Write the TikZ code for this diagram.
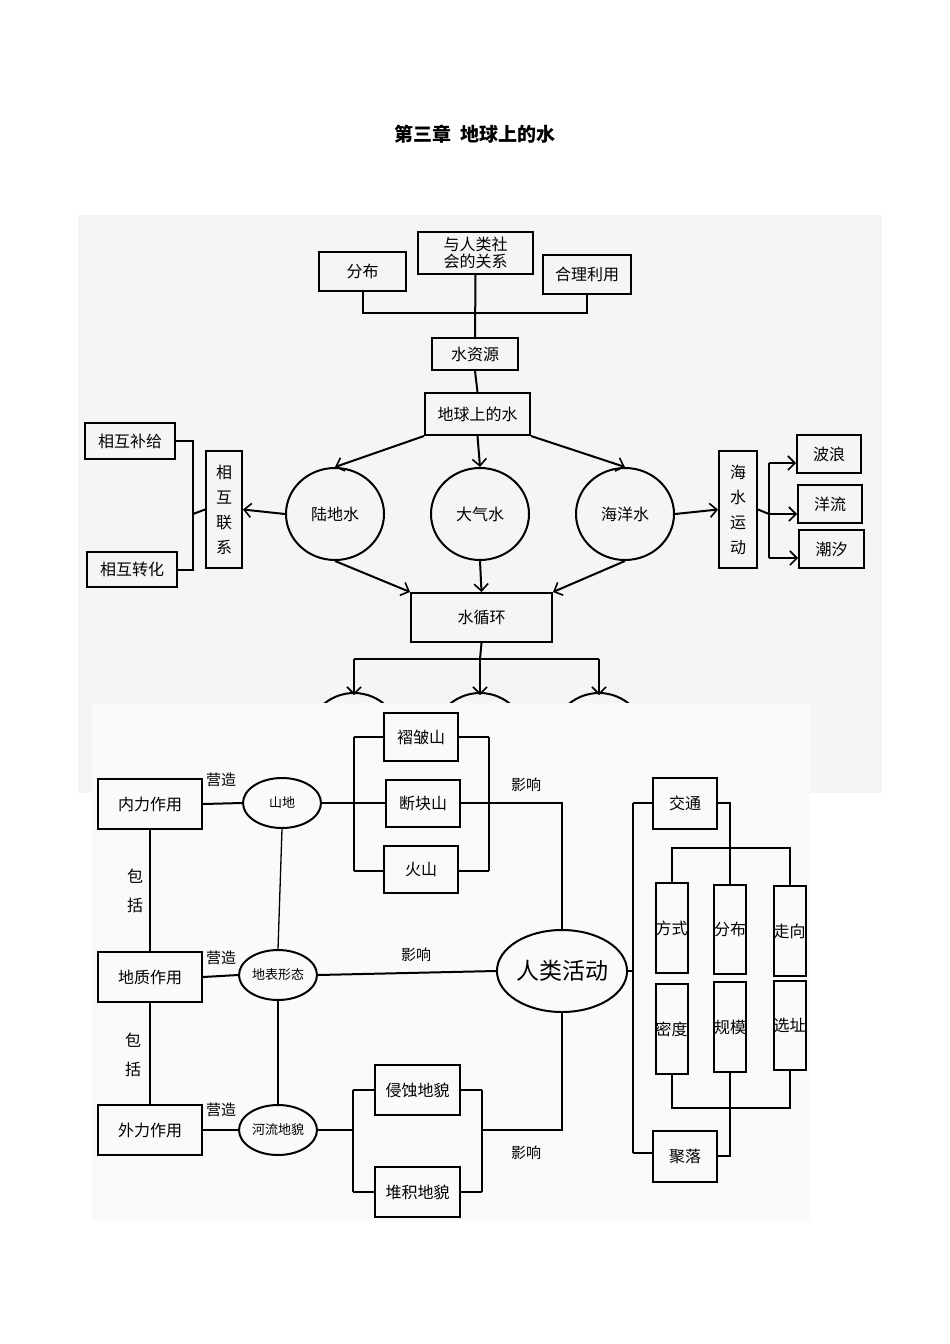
\documentclass[tikz,border=0pt]{standalone}
\usepackage{fontspec}
\setmainfont{Noto Sans CJK SC}
\usetikzlibrary{shapes.geometric,arrows.meta}
\begin{document}
\begin{tikzpicture}[x=1pt,y=-1pt,
  every node/.style={inner sep=0pt,font=\fontsize{16}{18}\selectfont},
  bx/.style={draw,line width=2pt,align=center},
  el/.style={draw,ellipse,line width=2pt,align=center},
  ln/.style={line width=2pt},
  thin/.style={line width=1.3pt},
  ar/.style={line width=2pt,-{Straight Barb[length=7pt,width=14pt,line width=1.6pt]}},
  lab/.style={font=\fontsize{15}{18}\selectfont}]
\useasboundingbox (0,0) rectangle (950,1344);
\node[font=\fontsize{19}{20}\selectfont\bfseries] (title) at (475,134) {第三章\ \ 地球上的水};
% top panel
\fill[black!4] (78,215) rectangle (882,793);
\node[bx,minimum width=115pt,minimum height=42pt,font=\fontsize{16}{17}\selectfont] (rel) at (475.5,253) {与人类社\\会的关系};
\node[bx,minimum width=87pt,minimum height=39pt] (fb) at (362.5,271.5) {分布};
\node[bx,minimum width=88pt,minimum height=39pt] (hl) at (587,274.5) {合理利用};
\node[bx,minimum width=86pt,minimum height=32pt] (szy) at (475,354) {水资源};
\node[bx,minimum width=105pt,minimum height=42pt] (dq) at (477.5,414) {地球上的水};
\node[el,minimum width=98pt,minimum height=92pt] (ld) at (335,514) {陆地水};
\node[el,minimum width=98pt,minimum height=92pt] (dqs) at (480,514) {大气水};
\node[el,minimum width=98pt,minimum height=92pt] (hy) at (625,514) {海洋水};
\node[bx,minimum width=141pt,minimum height=49pt] (sxh) at (481.5,617.5) {水循环};
\node[bx,minimum width=36pt,minimum height=117pt,font=\fontsize{16}{25}\selectfont] (xhlx) at (224,509.5) {相\\互\\联\\系};
\node[bx,minimum width=90pt,minimum height=36pt] (bj) at (130,441) {相互补给};
\node[bx,minimum width=90pt,minimum height=35pt] (zh) at (132,569.5) {相互转化};
\node[bx,minimum width=38pt,minimum height=117pt,font=\fontsize{16}{25}\selectfont] (hsyd) at (738,509.5) {海\\水\\运\\动};
\node[bx,minimum width=64pt,minimum height=38pt] (bl) at (829,454) {波浪};
\node[bx,minimum width=64pt,minimum height=38pt] (yl) at (830,504) {洋流};
\node[bx,minimum width=65pt,minimum height=38pt] (cx) at (831.5,549) {潮汐};
\coordinate (tbar) at (476,313);
\draw[ln] (fb.south) |- (tbar) -| (hl.south);
\draw[ln] (rel.south) -- (szy.north);
\draw[ln] (szy.south) -- (dq.north);
\draw[ar] (dq.south west) -- (ld.north);
\draw[ar] (dq.south) -- (dqs.north);
\draw[ar] (dq.south east) -- (hy.north);
\draw[ar] (ld.south) -- (sxh.north west);
\draw[ar] (dqs.south) -- (sxh.north);
\draw[ar] (hy.south) -- (sxh.north east);
\draw[ar] (ld.west) -- (xhlx.east);
\coordinate (bx) at (193,514);
\draw[ln] (bj.east) -| (bx) |- (zh.east);
\draw[ln] (bx) -- (xhlx.west);
\draw[ar] (hy.east) -- (hsyd.west);
\coordinate (w0) at (769,514);
\coordinate (w1) at (769,463);
\coordinate (w3) at (769,558);
\draw[ln] (hsyd.east) -- (w0);
\draw[ln] (w1) -- (w3);
\draw[ar] (w1) -- (w1 -| bl.west);
\draw[ar] (w0) -- (w0 -| yl.west);
\draw[ar] (w3) -- (w3 -| cx.west);
\coordinate (c0) at (480,659);
\coordinate (c1) at (354,659);
\coordinate (c3) at (599,659);
\draw[ln] (sxh.south) -- (c0);
\draw[ln] (c1) -- (c3);
\foreach \xx in {354,480,599}{
  \draw[ln] (\xx,740) circle[radius=47pt];
  \draw[ar] (\xx,659) -- (\xx,695);
}
% bottom panel
\fill[black!2] (92,703) rectangle (810,1220);
\node[bx,minimum width=104pt,minimum height=50pt] (nl) at (150,804) {内力作用};
\node[bx,minimum width=104pt,minimum height=50pt] (dz) at (150,977) {地质作用};
\node[bx,minimum width=104pt,minimum height=50pt] (wl) at (150,1130) {外力作用};
\node[el,minimum width=78pt,minimum height=50pt,font=\fontsize{13}{15}\selectfont] (sd) at (282,803) {山地};
\node[el,minimum width=78pt,minimum height=50pt,font=\fontsize{13}{15}\selectfont] (db) at (278,975) {地表形态};
\node[el,minimum width=78pt,minimum height=50pt,font=\fontsize{13}{15}\selectfont] (hl2) at (278,1130) {河流地貌};
\node[bx,minimum width=74pt,minimum height=48pt] (zz) at (421,737) {褶皱山};
\node[bx,minimum width=74pt,minimum height=47pt] (dk) at (423,803) {断块山};
\node[bx,minimum width=74pt,minimum height=47pt] (hs) at (421,869.5) {火山};
\node[el,minimum width=106pt,minimum height=82pt,font=\fontsize{23}{25}\selectfont] (rl) at (562,971) {人类活动};
\node[bx,minimum width=85pt,minimum height=50pt] (qs) at (417.5,1090) {侵蚀地貌};
\node[bx,minimum width=85pt,minimum height=50pt] (dj) at (417.5,1192) {堆积地貌};
\node[bx,minimum width=64pt,minimum height=51pt] (jt) at (685,803) {交通};
\node[bx,minimum width=64pt,minimum height=51pt] (jl) at (685,1156) {聚落};
\node[bx,minimum width=31pt,minimum height=90pt] (fs) at (671.5,928) {方式};
\node[bx,minimum width=32pt,minimum height=89pt] (fb2) at (730,929.5) {分布};
\node[bx,minimum width=31pt,minimum height=90pt] (zx) at (789.5,931) {走向};
\node[bx,minimum width=31pt,minimum height=90pt] (md) at (671.5,1029) {密度};
\node[bx,minimum width=32pt,minimum height=90pt] (gm) at (730,1027) {规模};
\node[bx,minimum width=31pt,minimum height=89pt] (xz) at (789.5,1025.5) {选址};
\node[lab] (l1) at (221,780) {营造};
\node[lab] (l2) at (221,958) {营造};
\node[lab] (l3) at (221,1110) {营造};
\node[lab,align=center,font=\fontsize{16}{29}\selectfont] (b1) at (135,891) {包\\括};
\node[lab,align=center,font=\fontsize{16}{29}\selectfont] (b2) at (133,1055) {包\\括};
\node[lab] (y1) at (526,785) {影响};
\node[lab] (y2) at (416,955) {影响};
\node[lab] (y3) at (526,1153) {影响};
\draw[ln] (nl.east) -- (sd.west);
\draw[ln] (dz.east) -- (db.west);
\draw[ln] (wl.east) -- (hl2.west);
\draw[thin] (nl.south) -- (dz.north);
\draw[thin] (dz.south) -- (wl.north);
\draw[thin] (sd.south) -- (db.north);
\draw[thin] (db.south) -- (hl2.north);
\coordinate (m1) at (354,737); \coordinate (m3) at (354,871);
\coordinate (n1) at (489,737); \coordinate (n3) at (489,871);
\draw[ln] (m1) -- (m3); \draw[ln] (n1) -- (n3);
\draw[ln] (m1) -- (zz.west); \draw[ln] (zz.east) -- (n1);
\draw[ln] (m3) -- (m3 -| hs.west); \draw[ln] (hs.east |- n3) -- (n3);
\draw[ln] (sd.east) -- (dk.west);
\draw[ln] (dk.east) -| (rl.north);
\draw[ln] (db.east) -- (rl.west);
\coordinate (r0) at (353,1130);
\coordinate (r1) at (353,1090); \coordinate (r3) at (353,1192);
\coordinate (s1) at (482,1090); \coordinate (s3) at (482,1192);
\coordinate (s0) at (482,1130);
\draw[ln] (hl2.east) -- (r0);
\draw[ln] (r1) -- (r3); \draw[ln] (s1) -- (s3);
\draw[ln] (r1) -- (qs.west); \draw[ln] (qs.east) -- (s1);
\draw[ln] (r3) -- (dj.west); \draw[ln] (dj.east) -- (s3);
\draw[ln] (s0) -| (rl.south);
\coordinate (v0) at (633,971);
\coordinate (v1) at (633,803);
\coordinate (v3) at (633,1153);
\draw[ln] (rl.east) -- (v0);
\draw[ln] (v1) -- (v3);
\draw[ln] (v1) -- (jt.west);
\draw[ln] (v3) -- (v3 -| jl.west);
\draw[ln] (jt.east) -| (fb2.north);
\draw[ln] (jl.east) -| (gm.south);
\coordinate (ta) at (0,848);
\coordinate (tb) at (0,1108);
\draw[ln] (fs.north) -- (fs.north |- ta) -- (zx.north |- ta) -- (zx.north);
\draw[ln] (md.south) -- (md.south |- tb) -- (xz.south |- tb) -- (xz.south);
\end{tikzpicture}
\end{document}
